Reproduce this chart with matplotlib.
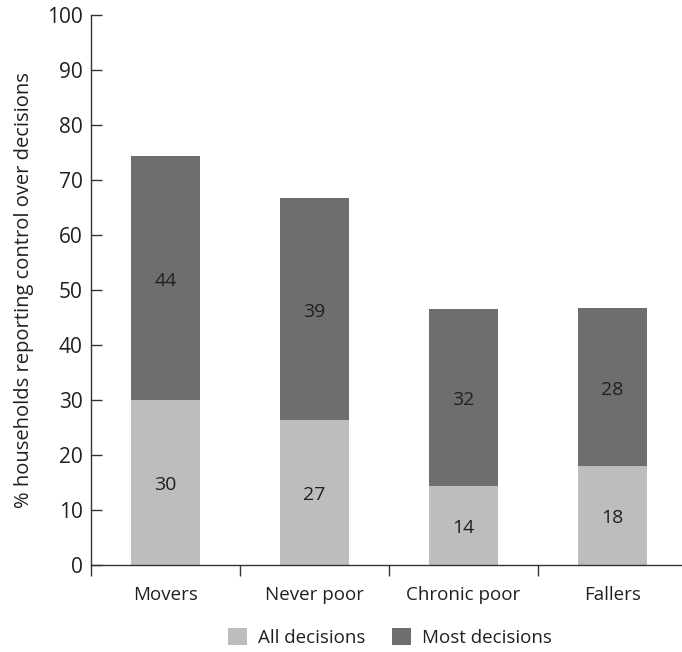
import matplotlib.pyplot as plt
import numpy as np

categories = ["Movers", "Never poor", "Chronic poor", "Fallers"]
all_decisions = [30.0, 26.4, 14.4, 18.0]
most_decisions = [44.3, 40.3, 32.1, 28.7]
all_labels = ["30", "27", "14", "18"]
most_labels = ["44", "39", "32", "28"]

light = "#bcbdbf"
dark = "#6d6e70"
text_color = "#231f20"

plt.rcParams["font.family"] = ["Open Sans", "DejaVu Sans"]
plt.rcParams["font.size"] = 13

fig = plt.figure(figsize=(6.82, 6.52), dpi=100)
ax = fig.add_axes([0.1334, 0.1334, 0.874, 0.8436])

x = np.arange(len(categories))
width = 0.46
b1 = ax.bar(x, all_decisions, width, color=light, label="All decisions")
b2 = ax.bar(x, most_decisions, width, bottom=all_decisions, color=dark,
            label="Most decisions")

for i in range(len(categories)):
    ax.text(x[i], all_decisions[i] / 2 - 0.5, all_labels[i], ha="center",
            va="center", color=text_color, fontsize=14)
    ax.text(x[i], all_decisions[i] + most_decisions[i] / 2 - 0.5, most_labels[i],
            ha="center", va="center", color=text_color, fontsize=14)

ax.set_xlim(-0.5, 3.5)
ax.set_ylim(0, 100)
ax.set_yticks(range(0, 101, 10))
ax.tick_params(axis="y", direction="in", length=8, width=1, color="#333333",
               labelcolor=text_color, pad=6, labelsize=15)

ax.set_xticks(x)
ax.set_xticklabels(categories, color=text_color, fontsize=13.5)
ax.set_xticks([-0.5, 0.5, 1.5, 2.5, 3.5], minor=True)
ax.tick_params(axis="x", which="major", length=0, pad=15)
ax.tick_params(axis="x", which="minor", direction="out", length=8, width=1,
               color="#333333")

for s in ["top", "right"]:
    ax.spines[s].set_visible(False)
for s in ["left", "bottom"]:
    ax.spines[s].set_color("#333333")
    ax.spines[s].set_linewidth(1)

ax.set_ylabel("% households reporting control over decisions", color=text_color,
              fontsize=14.5, labelpad=9)

fig.legend(handles=[b1, b2], loc="lower center", bbox_to_anchor=(0.572, -0.018),
           ncol=2, frameon=False, handlelength=1, handleheight=1,
           columnspacing=1.4, handletextpad=0.6, fontsize=13.5,
           labelcolor=text_color)

fig.savefig("out.png", dpi=100)
